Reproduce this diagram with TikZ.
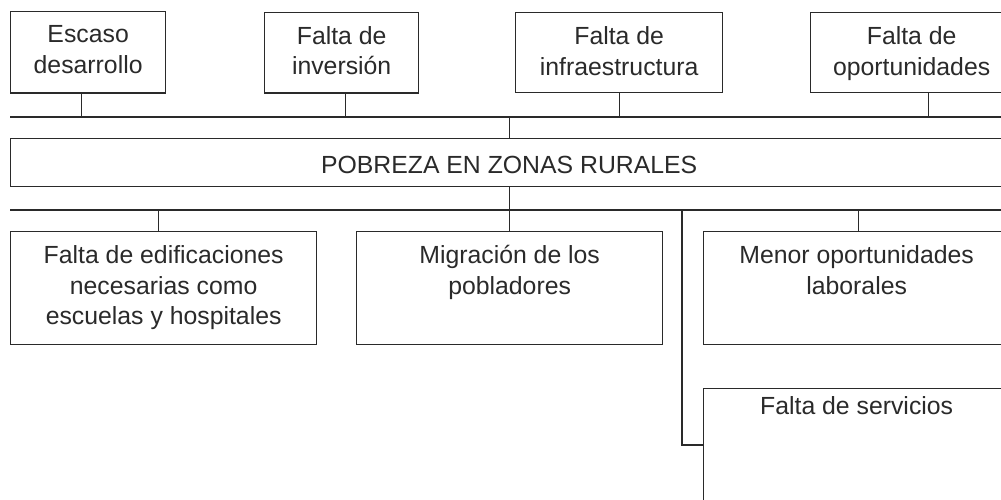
\documentclass[tikz,border=0pt]{standalone}
\usepackage{fontspec}
\setmainfont{Liberation Sans}
\usepackage{xcolor}
\usetikzlibrary{positioning}

\definecolor{ink}{HTML}{2A2A2A}

\begin{document}
\begin{tikzpicture}[
    x=0.5pt, y=-0.5pt,
    box/.style={draw=ink, line width=0.65pt, anchor=north west, inner sep=0pt},
    txt/.style={anchor=north, align=center, inner sep=0pt, yshift=-7pt, text=ink, font=\fontsize{12.4}{15.4}\selectfont},
    link/.style={draw=ink, line width=0.65pt}
]
    \path[use as bounding box, fill=white] (0,0) rectangle (1001,499);

    % causas
    \node [box, minimum width=77.5pt, minimum height=40.75pt, label={[txt]north:{Escaso\\desarrollo}}] (esc) at (10,10.75) {};
    \node [box, minimum width=77pt, minimum height=40.25pt, label={[txt]north:{Falta de\\inversión}}] (inv) at (264,11.75) {};
    \node [box, minimum width=103.5pt, minimum height=40pt, label={[txt]north:{Falta de\\infraestructura}}] (inf) at (515,12) {};
    \node [box, minimum width=101pt, minimum height=40pt, label={[txt]north:{Falta de\\oportunidades}}] (opo) at (810,12) {};

    % problema central
    \node [box, minimum width=498.5pt, minimum height=24pt, label={[txt, yshift=-2pt]north:{POBREZA EN ZONAS RURALES}}] (pob) at (10,138) {};

    % efectos
    \node [box, minimum width=153pt, minimum height=56.5pt, label={[txt]north:{Falta de edificaciones\\necesarias como\\escuelas y hospitales}}] (edif) at (10,231) {};
    \node [box, minimum width=153pt, minimum height=56.5pt, label={[txt]north:{Migración de los\\pobladores}}] (mig) at (356,231) {};
    \node [box, minimum width=153pt, minimum height=56.5pt, label={[txt]north:{Menor oportunidades\\laborales}}] (men) at (703,231) {};
    \node [box, minimum width=153pt, minimum height=62pt, label={[txt, yshift=3pt]north:{Falta de servicios}}] (ser) at (703,388) {};

    % barras
    \coordinate (upL) at (10,117);
    \coordinate (upR) at (1010,117);
    \coordinate (loL) at (10,210);
    \coordinate (loR) at (1010,210);
    \coordinate (hook) at (682,210);

    \draw [link] (upL) -- (upR);
    \draw [link] (loL) -- (loR);

    \draw [link] ([xshift=-3.25pt]esc.south) -- ([xshift=-3.25pt]esc.south |- upL);
    \draw [link] ([xshift=2pt]inv.south) -- ([xshift=2pt]inv.south |- upL);
    \draw [link] (inf.south) -- (inf.south |- upL);
    \draw [link] ([xshift=8.5pt]opo.south) -- ([xshift=8.5pt]opo.south |- upL);
    \draw [link] (pob.north) -- (pob.north |- upL);
    \draw [link] (pob.south) -- (pob.south |- loL);

    \draw [link] ([xshift=-2.5pt]edif.north) -- ([xshift=-2.5pt]edif.north |- loL);
    \draw [link] (mig.north) -- (mig.north |- loL);
    \draw [link] ([xshift=1pt]men.north) -- ([xshift=1pt]men.north |- loL);
    \draw [link] (hook) |- ([yshift=-28.5pt]ser.north west);
\end{tikzpicture}
\end{document}
